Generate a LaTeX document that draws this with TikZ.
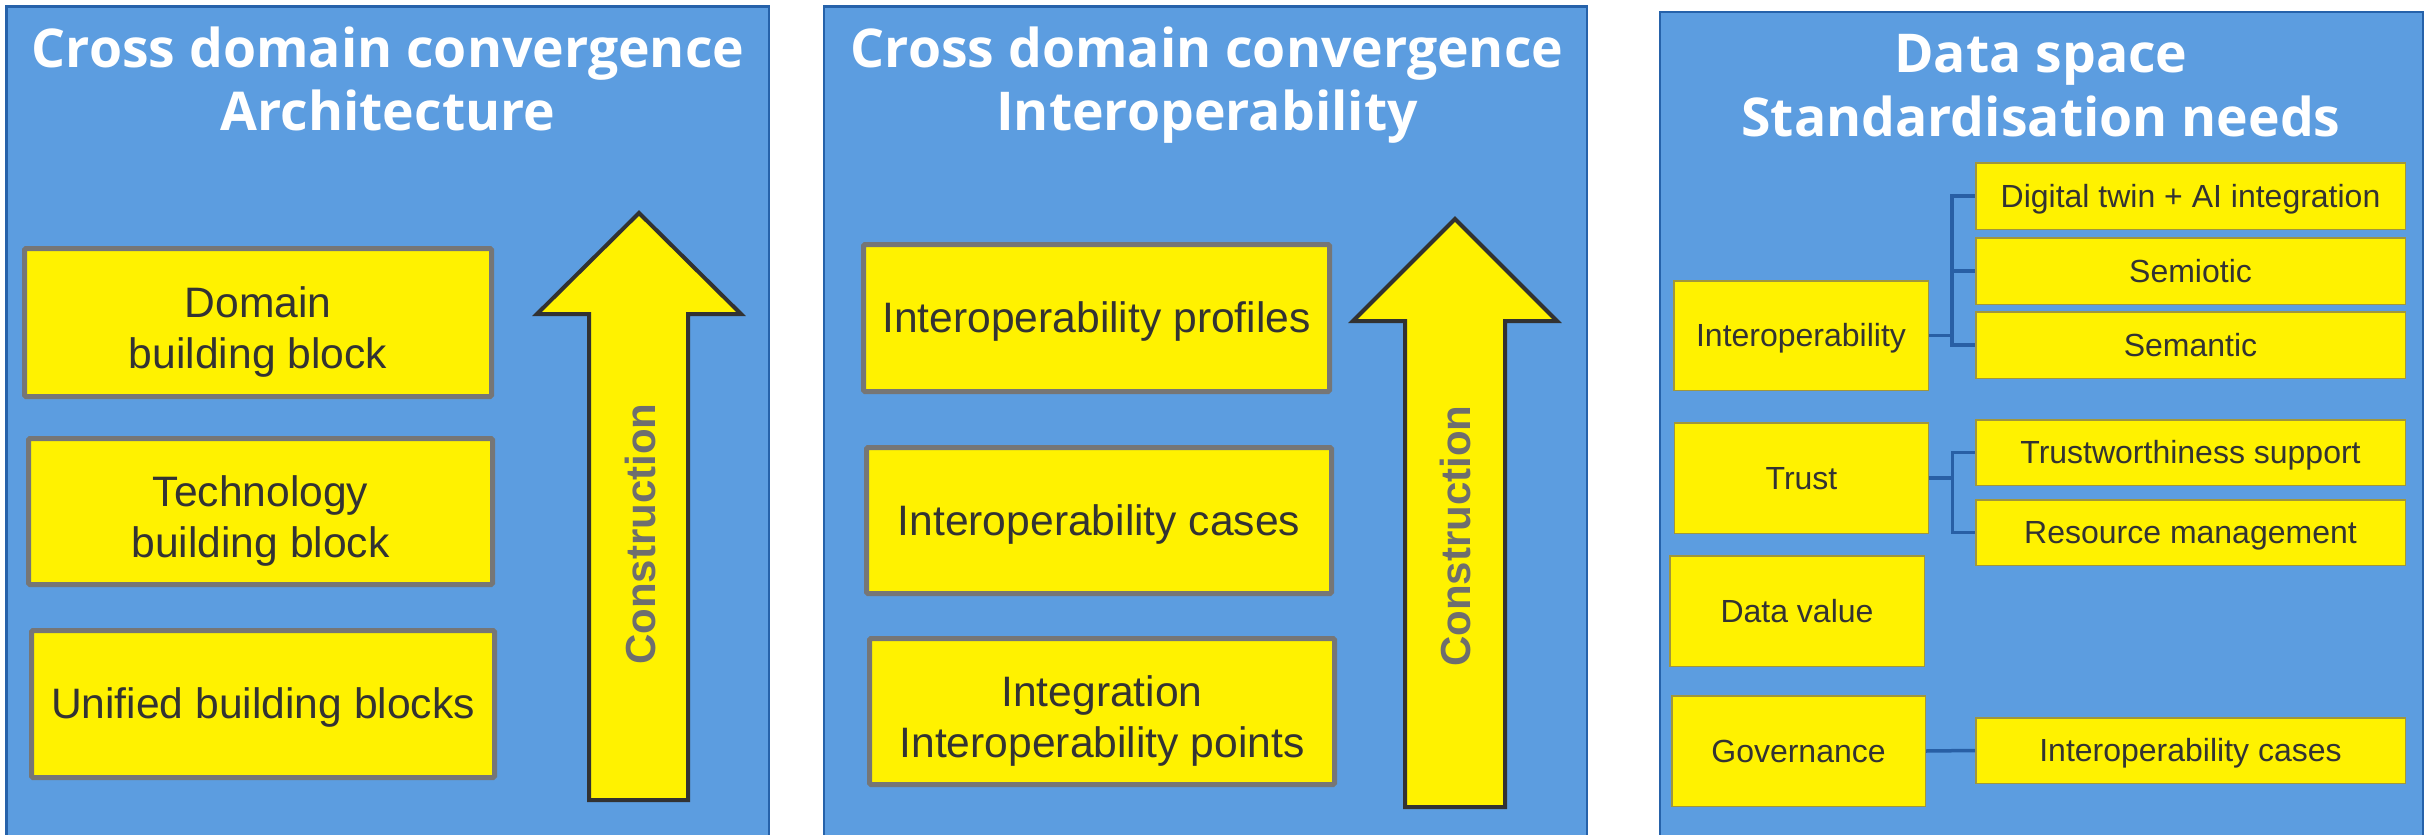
\documentclass[tikz,border=0pt]{standalone}
\usepackage{fontspec}
\setmainfont{Liberation Sans}
\newfontfamily\titlefont{Open Sans}
\newcommand\myStrut{\rule[-0.212em]{0pt}{1.117em}}
\newcommand\topStrut{\rule{0pt}{50pt}}
\definecolor{panelblue}{RGB}{92,157,224}
\definecolor{panelborder}{RGB}{38,98,170}
\definecolor{boxgray}{RGB}{118,118,118}
\definecolor{txt}{RGB}{51,51,51}
\definecolor{smallborder}{RGB}{160,150,60}
\definecolor{arrowborder}{RGB}{50,50,50}
\definecolor{constrgray}{RGB}{110,110,110}
\definecolor{connblue}{RGB}{40,95,165}
\begin{document}
\begin{tikzpicture}[x=1pt,y=-1pt,
  panel/.style={fill=panelblue, draw=panelborder, line width=2.5pt},
  bigbox/.style={draw=boxgray, line width=5pt, fill=yellow, rounded corners=1.5pt, text=txt,
     font=\fontsize{42.6}{51}\selectfont, align=center, inner sep=0pt, execute at begin node=\myStrut},
  smallbox/.style={draw=smallborder, line width=1.5pt, fill=yellow, text=txt,
     font=\fontsize{32}{38}\selectfont, align=center, inner sep=0pt, execute at begin node=\myStrut},
  ttl/.style={text=white, font=\titlefont\bfseries\fontsize{53.5}{63}\selectfont, anchor=base, inner sep=0pt},
  uparrow/.style={fill=yellow, draw=arrowborder, line width=4pt, line join=miter},
  constr/.style={rotate=90, text=constrgray, font=\bfseries\fontsize{42}{50}\selectfont, inner sep=0pt},
  conn/.style={draw=connblue, line width=3.5pt}]
\useasboundingbox (0,0) rectangle (2433,835);
\clip (0,0) rectangle (2433,835);
\fill[white] (0,0) rectangle (2433,835);
% panels
\draw[panel] (6.5,6.5) rectangle (769,850);
\draw[panel] (824,6.5) rectangle (1587,850);
\draw[panel] (1660,12) rectangle (2423,850);
% titles
\node[ttl] (t1a) at (388,67) {Cross domain convergence};
\node[ttl] (t1b) at (388,130) {Architecture};
\node[ttl] (t2a) at (1207,67) {Cross domain convergence};
\node[ttl] (t2b) at (1207,130) {Interoperability};
\node[ttl] (t3a) at (2041,72) {Data space};
\node[ttl] (t3b) at (2041,136) {Standardisation needs};
% panel 1
\node[bigbox, minimum width=467, minimum height=148] (a1) at (258,322.5) {\topStrut Domain\\\myStrut building block};
\node[bigbox, minimum width=464, minimum height=146] (a2) at (260.5,511.5) {\topStrut Technology\\\myStrut building block};
\node[bigbox, minimum width=463, minimum height=147] (a3) at (263,704) {Unified building blocks};
\draw[uparrow] (589,800) -- (589,314) -- (537,314) -- (639,213) -- (741,314) -- (688,314) -- (688,800) -- cycle;
\node[constr] (c1) at (640,534) {Construction};
% panel 2
\node[bigbox, minimum width=466, minimum height=147] (b1) at (1096.5,318) {Interoperability profiles};
\node[bigbox, minimum width=465, minimum height=146] (b2) at (1099,520.5) {Interoperability cases};
\node[bigbox, minimum width=465, minimum height=146] (b3) at (1102,711.5) {\topStrut Integration\\\myStrut Interoperability points};
\draw[uparrow] (1405,807) -- (1405,321) -- (1353,321) -- (1455,219) -- (1557,321) -- (1505,321) -- (1505,807) -- cycle;
\node[constr] (c2) at (1455,536) {Construction};
% panel 3 left boxes
\node[smallbox, minimum width=254.5, minimum height=109.5] (interop) at (1801,335.5) {Interoperability};
\node[smallbox, minimum width=254, minimum height=110.5] (trust) at (1801.5,478) {Trust};
\node[smallbox, minimum width=254.5, minimum height=110.5] (dval) at (1797,611) {Data value};
\node[smallbox, minimum width=253.5, minimum height=110.5] (gov) at (1798.5,751) {Governance};
% panel 3 right boxes
\node[smallbox, minimum width=429.5, minimum height=66.5] (dt) at (2190.5,196) {Digital twin + AI integration};
\node[smallbox, minimum width=429.5, minimum height=66.5] (semio) at (2190.5,271) {Semiotic};
\node[smallbox, minimum width=429.5, minimum height=66.5] (seman) at (2190.5,345) {Semantic};
\node[smallbox, minimum width=429.5, minimum height=65.5] (tws) at (2190.5,452.5) {Trustworthiness support};
\node[smallbox, minimum width=429.5, minimum height=65.5] (rm) at (2190.5,532.5) {Resource management};
\node[smallbox, minimum width=429.5, minimum height=65.5] (ic) at (2190.5,750.5) {Interoperability cases};
% connectors
\draw[conn] (interop.east) -- ++(23,0) coordinate (j1);
\draw[conn] (j1) |- (dt.west);
\draw[conn] (j1) |- (semio.west);
\draw[conn] (j1) |- (seman.west);
\draw[conn] (trust.east) -- ++(23,0) coordinate (j2);
\draw[conn] (j2) |- (tws.west);
\draw[conn] (j2) |- (rm.west);
\draw[conn] (gov.east) -- (ic.west);
\end{tikzpicture}
\end{document}
